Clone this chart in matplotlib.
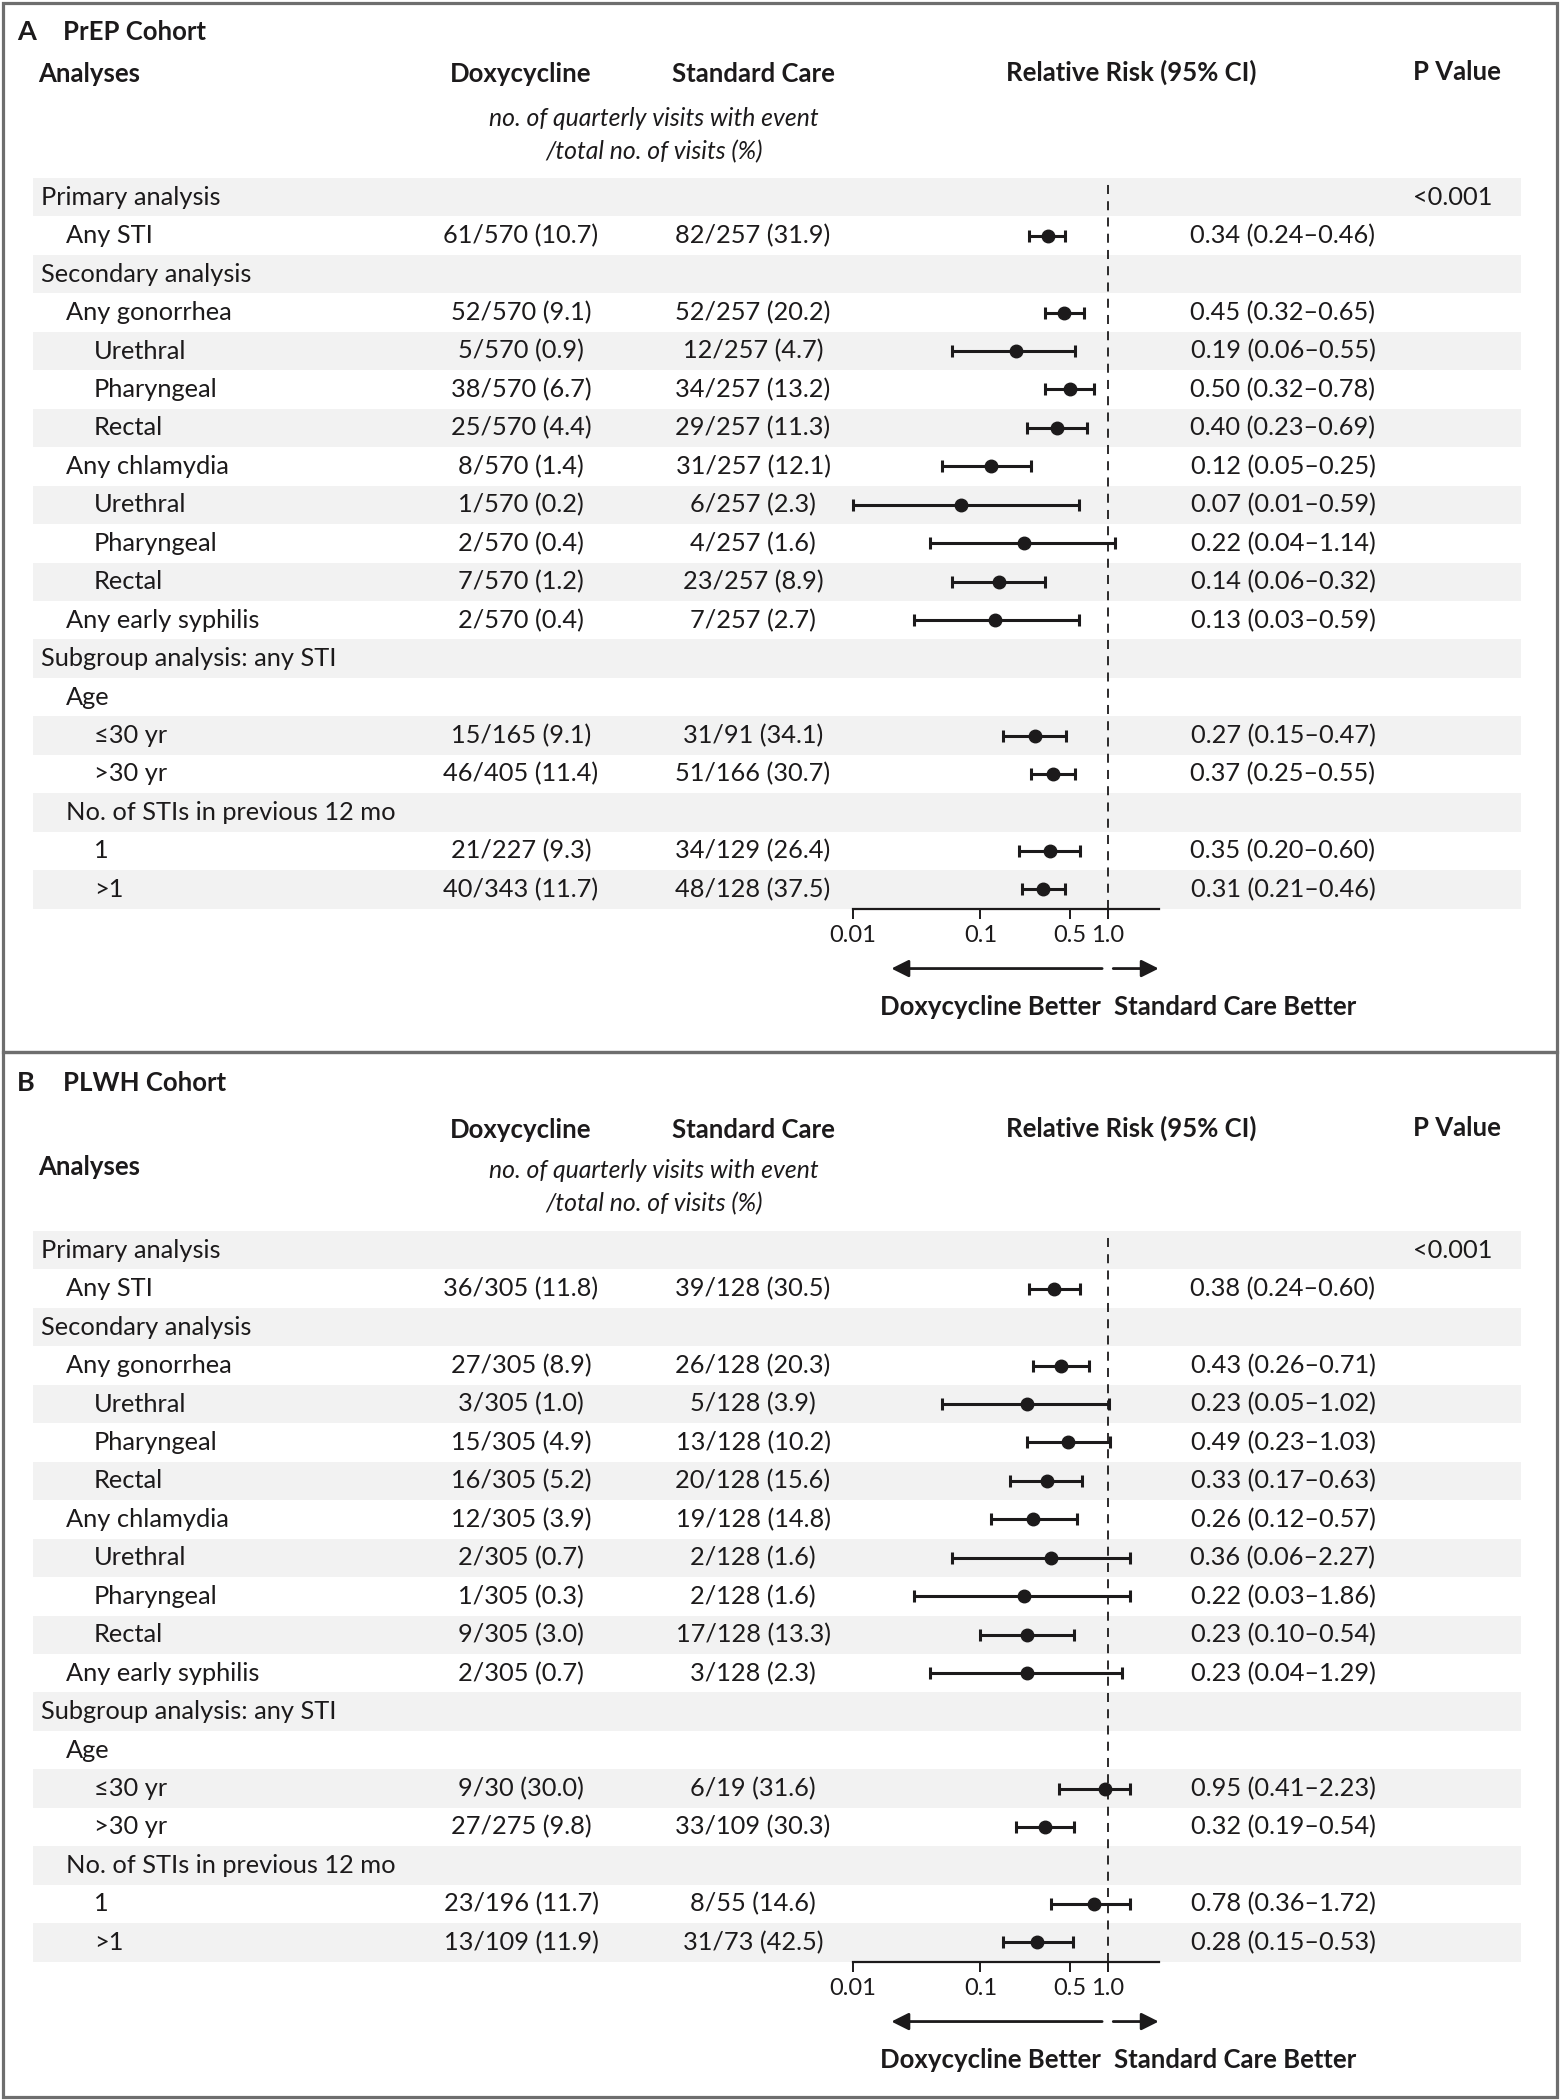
import numpy as np
import matplotlib
matplotlib.use('Agg')
import matplotlib.pyplot as plt
from matplotlib.patches import Rectangle

plt.rcParams['font.family'] = ['Lato', 'DejaVu Sans']

# table rows (shared by both cohorts)
ROW_LABELS = ["Primary analysis", "Any STI", "Secondary analysis", "Any gonorrhea",
              "Urethral", "Pharyngeal", "Rectal", "Any chlamydia", "Urethral",
              "Pharyngeal", "Rectal", "Any early syphilis", "Subgroup analysis: any STI",
              "Age", "\u226430 yr", ">30 yr", "No. of STIs in previous 12 mo", "1", ">1"]
ROW_LEVELS = [0, 1, 0, 1, 2, 2, 2, 1, 2, 2, 2, 1, 0, 1, 2, 2, 1, 2, 2]
P_VALUES = ["<0.001"] + [""] * 18

# panel A - PrEP cohort
PREP_DOXY = ["", "61/570 (10.7)", "", "52/570 (9.1)", "5/570 (0.9)", "38/570 (6.7)",
             "25/570 (4.4)", "8/570 (1.4)", "1/570 (0.2)", "2/570 (0.4)", "7/570 (1.2)",
             "2/570 (0.4)", "", "", "15/165 (9.1)", "46/405 (11.4)", "", "21/227 (9.3)",
             "40/343 (11.7)"]
PREP_STD = ["", "82/257 (31.9)", "", "52/257 (20.2)", "12/257 (4.7)", "34/257 (13.2)",
            "29/257 (11.3)", "31/257 (12.1)", "6/257 (2.3)", "4/257 (1.6)", "23/257 (8.9)",
            "7/257 (2.7)", "", "", "31/91 (34.1)", "51/166 (30.7)", "", "34/129 (26.4)",
            "48/128 (37.5)"]
nan = np.nan
PREP_RR = [nan, 0.34, nan, 0.45, 0.19, 0.50, 0.40, 0.12, 0.07, 0.22, 0.14, 0.13,
           nan, nan, 0.27, 0.37, nan, 0.35, 0.31]
PREP_LO = [nan, 0.24, nan, 0.32, 0.06, 0.32, 0.23, 0.05, 0.01, 0.04, 0.06, 0.03,
           nan, nan, 0.15, 0.25, nan, 0.20, 0.21]
PREP_HI = [nan, 0.46, nan, 0.65, 0.55, 0.78, 0.69, 0.25, 0.59, 1.14, 0.32, 0.59,
           nan, nan, 0.47, 0.55, nan, 0.60, 0.46]

# panel B - PLWH cohort
PLWH_DOXY = ["", "36/305 (11.8)", "", "27/305 (8.9)", "3/305 (1.0)", "15/305 (4.9)",
             "16/305 (5.2)", "12/305 (3.9)", "2/305 (0.7)", "1/305 (0.3)", "9/305 (3.0)",
             "2/305 (0.7)", "", "", "9/30 (30.0)", "27/275 (9.8)", "", "23/196 (11.7)",
             "13/109 (11.9)"]
PLWH_STD = ["", "39/128 (30.5)", "", "26/128 (20.3)", "5/128 (3.9)", "13/128 (10.2)",
            "20/128 (15.6)", "19/128 (14.8)", "2/128 (1.6)", "2/128 (1.6)", "17/128 (13.3)",
            "3/128 (2.3)", "", "", "6/19 (31.6)", "33/109 (30.3)", "", "8/55 (14.6)",
            "31/73 (42.5)"]
PLWH_RR = [nan, 0.38, nan, 0.43, 0.23, 0.49, 0.33, 0.26, 0.36, 0.22, 0.23, 0.23,
           nan, nan, 0.95, 0.32, nan, 0.78, 0.28]
PLWH_LO = [nan, 0.24, nan, 0.26, 0.05, 0.23, 0.17, 0.12, 0.06, 0.03, 0.10, 0.04,
           nan, nan, 0.41, 0.19, nan, 0.36, 0.15]
PLWH_HI = [nan, 0.60, nan, 0.71, 1.02, 1.03, 0.63, 0.57, 2.27, 1.86, 0.54, 1.29,
           nan, nan, 2.23, 0.54, nan, 1.72, 0.53]

XTICKS = [0.01, 0.1, 0.5, 1.0]
XTICK_LABELS = ["0.01", "0.1", "0.5", "1.0"]

# layout (pixels)
W, H = 1560, 2100
ROW_H = 38.45
INDENT = [41, 66, 94]
X_DOXY, X_STD, X_RR, X_P = 521, 753, 1283, 1492
X_SHADE0, X_SHADE1 = 33, 1521
X_AX0, X_AX1 = 853, 1158.7
CI_CLIP = 1.5           # whiskers are cut short in the original figure
INK = '#1c1a1b'
SHADE = '#f2f2f2'
FS = 18.3


def draw_panel(fig, bg, letter, title, top_box, bot_box, title_y, head_y, anal_y,
               ital_y, rows_top, doxy, std, rr, lo, hi):
    bg.add_patch(Rectangle((3, top_box), W - 6, bot_box - top_box, fill=False,
                           ec='#6e6e6e', lw=2.3, zorder=5))
    bg.text(17, title_y, letter, fontsize=19.5, fontweight='bold', color=INK, va='center')
    bg.text(63, title_y, title, fontsize=18.5, fontweight='bold', color=INK, va='center')

    bg.text(38, anal_y, "Analyses", fontsize=18.5, fontweight='bold', color=INK, va='center')
    bg.text(X_DOXY, head_y, "Doxycycline", fontsize=18.5, fontweight='bold', color=INK,
            ha='center', va='center')
    bg.text(X_STD, head_y, "Standard Care", fontsize=18.5, fontweight='bold', color=INK,
            ha='center', va='center')
    bg.text(1131, head_y - 2, "Relative Risk (95% CI)", fontsize=18.5, fontweight='bold',
            color=INK, ha='center', va='center')
    bg.text(1457, head_y - 2, "P Value", fontsize=18.5, fontweight='bold', color=INK,
            ha='center', va='center')
    bg.text(654, ital_y, "no. of quarterly visits with event", fontsize=17.8,
            style='italic', color=INK, ha='center', va='center')
    bg.text(654, ital_y + 34, "/total no. of visits (%)", fontsize=17.8,
            style='italic', color=INK, ha='center', va='center')

    n = len(ROW_LABELS)
    for i in range(n):
        y0 = rows_top + i * ROW_H
        yc = y0 + ROW_H / 2
        if i % 2 == 0:
            bg.add_patch(Rectangle((X_SHADE0, y0), X_SHADE1 - X_SHADE0, ROW_H,
                                   fc=SHADE, ec='none', zorder=0))
        bg.text(INDENT[ROW_LEVELS[i]], yc, ROW_LABELS[i], fontsize=FS, color=INK, va='center')
        bg.text(X_DOXY, yc, doxy[i], fontsize=FS, color=INK, ha='center', va='center')
        bg.text(X_STD, yc, std[i], fontsize=FS, color=INK, ha='center', va='center')
        if not np.isnan(rr[i]):
            bg.text(X_RR, yc, f"{rr[i]:.2f} ({lo[i]:.2f}\u2013{hi[i]:.2f})", fontsize=FS,
                    color=INK, ha='center', va='center')
        bg.text(X_P, yc, P_VALUES[i], fontsize=FS, color=INK, ha='right', va='center')

    # forest plot on a log axis
    ax_h = n * ROW_H
    ax = fig.add_axes([X_AX0 / W, 1 - (rows_top + ax_h) / H, (X_AX1 - X_AX0) / W, ax_h / H])
    ax.patch.set_visible(False)
    ax.set_xscale('log')
    ax.set_xlim(0.01, 2.5)
    ax.set_ylim(n - 0.5, -0.5)
    for s in ['top', 'left', 'right']:
        ax.spines[s].set_visible(False)
    ax.spines['bottom'].set_linewidth(1.6)
    ax.spines['bottom'].set_color(INK)
    ax.set_yticks([])
    ax.set_xticks(XTICKS)
    ax.set_xticklabels(XTICK_LABELS)
    ax.xaxis.set_minor_locator(matplotlib.ticker.NullLocator())
    ax.tick_params(axis='x', direction='out', length=7, width=1.4, color=INK,
                   labelsize=17, labelcolor=INK, pad=5)

    ax.axvline(1.0, color=INK, lw=1.3, ls=(0, (5, 4)), zorder=1)

    rr_a = np.array(rr)
    lo_a = np.array(lo)
    hi_a = np.minimum(np.array(hi), CI_CLIP)
    ypos = np.arange(n)
    ok = ~np.isnan(rr_a)
    ax.errorbar(rr_a[ok], ypos[ok], xerr=[rr_a[ok] - lo_a[ok], hi_a[ok] - rr_a[ok]],
                fmt='o', color=INK, ms=9, elinewidth=2.2, capsize=4.5, capthick=2.2,
                zorder=3, clip_on=False)

    arr_y = -60 / ax_h
    lab_y = -98 / ax_h
    ax.annotate('', xy=(0.02, arr_y), xytext=(0.9, arr_y),
                xycoords=('data', 'axes fraction'), annotation_clip=False,
                arrowprops=dict(arrowstyle='-|>', lw=2, color=INK, mutation_scale=26,
                                shrinkA=0, shrinkB=0))
    ax.annotate('', xy=(2.5, arr_y), xytext=(1.1, arr_y),
                xycoords=('data', 'axes fraction'), annotation_clip=False,
                arrowprops=dict(arrowstyle='-|>', lw=2, color=INK, mutation_scale=26,
                                shrinkA=0, shrinkB=0))
    ax.annotate('Doxycycline Better', xy=(1.0, lab_y), xycoords=('data', 'axes fraction'),
                xytext=(-5, 0), textcoords='offset points', ha='right', va='center',
                fontsize=18.5, fontweight='bold', color=INK, annotation_clip=False)
    ax.annotate('Standard Care Better', xy=(1.0, lab_y), xycoords=('data', 'axes fraction'),
                xytext=(4, 0), textcoords='offset points', ha='left', va='center',
                fontsize=18.5, fontweight='bold', color=INK, annotation_clip=False)
    return ax


fig = plt.figure(figsize=(W / 100, H / 100), dpi=100)
bg = fig.add_axes([0, 0, 1, 1])
bg.set_xlim(0, W)
bg.set_ylim(H, 0)
bg.axis('off')

draw_panel(fig, bg, "A", "PrEP Cohort", 3, 1052, 32, 74, 74, 118, 178,
           PREP_DOXY, PREP_STD, PREP_RR, PREP_LO, PREP_HI)
draw_panel(fig, bg, "B", "PLWH Cohort", 1052, 2097, 1083, 1130, 1167, 1170, 1231,
           PLWH_DOXY, PLWH_STD, PLWH_RR, PLWH_LO, PLWH_HI)

fig.savefig('out.png', dpi=100)
